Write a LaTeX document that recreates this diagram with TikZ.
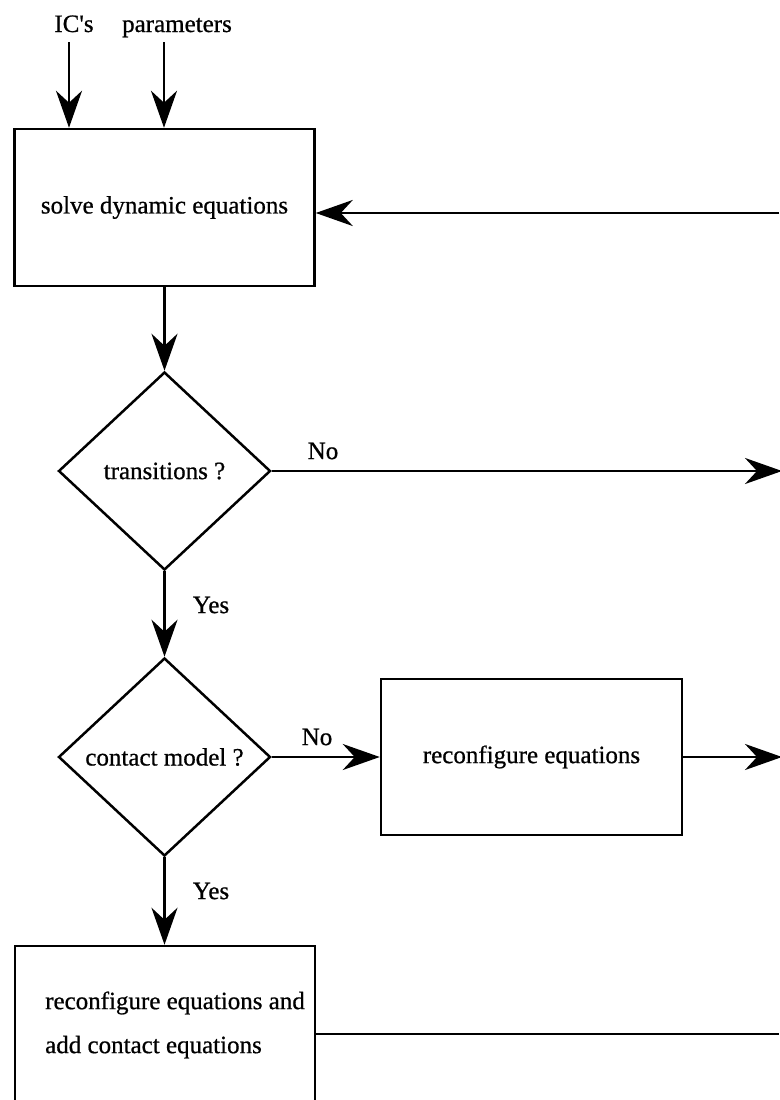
\documentclass[tikz,border=0pt]{standalone}
\usepackage{fontspec}
\setmainfont{Liberation Serif}
\newfontfamily\tnr{Liberation Serif}[FakeBold=0.7]
\usetikzlibrary{shapes.geometric,arrows.meta}
\begin{document}
\begin{tikzpicture}[x=1pt,y=-1pt,
  every node/.style={font=\tnr\fontsize{25}{44}\selectfont},
  line/.style={line width=2.8pt},
  arr/.style={line width=2.8pt,-{Stealth[length=37pt,width=26pt,inset=12pt]}},
  box/.style={draw,line width=2.5pt,rectangle,inner sep=0pt,minimum width=300pt},
  dec/.style={draw,line width=2.5pt,diamond,inner sep=0pt,minimum width=212pt,minimum height=198pt},
  lbl/.style={inner sep=0pt}]
\useasboundingbox (0,0) rectangle (779,1100);
% inputs
\node[lbl,anchor=base] (ics) at (74,32) {IC\textquotesingle s};
\node[lbl,anchor=base] (par) at (177,32) {parameters};
\coordinate (a1) at (69,42);
\coordinate (a2) at (164,42);
% box 1
\node[box,minimum height=157pt] (b1) at (164.5,207.5) {solve dynamic equations};
\draw[arr] (a1) -- (a1 |- b1.north);
\draw[arr] (a2) -- (a2 |- b1.north);
\coordinate (r1) at (779,213);
\draw[arr] (r1) -- (r1 -| b1.east);
% diamond 1
\node[dec] (d1) at (164.5,471) {transitions ?};
\draw[arr] (b1.south -| d1.north) -- (d1.north);
\coordinate (r2) at (782,471);
\draw[arr] (d1.east) -- (r2);
\node[lbl] (no1) at (323,451) {No};
% diamond 2
\node[dec] (d2) at (164.5,757) {contact model ?};
\draw[arr] (d1.south) -- (d2.north);
\node[lbl] (yes1) at (211,605) {Yes};
% box 2
\node[box,minimum height=156pt,minimum width=301pt] (b2) at (531.5,757) {reconfigure equations};
\draw[arr] (d2.east) -- (b2.west);
\node[lbl] (no2) at (317,737) {No};
\coordinate (r3) at (782,757);
\draw[arr] (b2.east) -- (r3);
% box 3
\node[box,minimum height=176pt] (b3) at (165,1034) {};
\node[lbl,anchor=west,align=left] (b3t) at (45,1025) {reconfigure equations and\\add contact equations};
\draw[arr] (d2.south) -- (d2.south |- b3.north);
\node[lbl] (yes2) at (211,891) {Yes};
\coordinate (r4) at (779,1034);
\draw[line] (b3.east) -- (r4);
\end{tikzpicture}
\end{document}
